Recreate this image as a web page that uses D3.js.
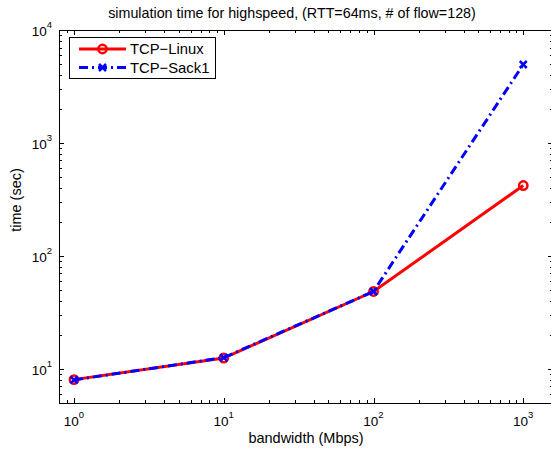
<!DOCTYPE html>
<html>
<head>
<meta charset="utf-8">
<script src="https://cdn.jsdelivr.net/npm/d3@7"></script>
<style>
  body { margin: 0; background: #fff; overflow: hidden; }
  svg { display: block; font-family: "Liberation Sans", Arial, sans-serif; }
</style>
</head>
<body>
<div id="chart"></div>
<script>
// data
const bandwidth = [1, 10, 100, 1000];
const linuxTime = [8.05, 12.5, 48.5, 420];
const sackTime = [8.0, 12.6, 48.5, 4950];
const seriesNames = ["TCP\u2212Linux", "TCP\u2212Sack1"];
const xDomain = [0.794, 1580];
const yDomain = [5, 10000];

const width = 551, height = 451;
// the right side of the box falls just outside the picture, as in the original
const margin = { top: 30, right: -2, bottom: 48, left: 59 };

const svg = d3.select("#chart").append("svg")
  .attr("width", width)
  .attr("height", height);

const x = d3.scaleLog().domain(xDomain).range([margin.left, width - margin.right]);
const y = d3.scaleLog().domain(yDomain).range([height - margin.bottom, margin.top]);

const x0 = margin.left, x1 = width - margin.right;
const y0 = height - margin.bottom, y1 = margin.top;

const isMajor = (v) => Math.abs(Math.log10(v) - Math.round(Math.log10(v))) < 1e-9;

// ticks, pointing inward on all four sides
const ticks = svg.append("g").attr("stroke", "#000").attr("stroke-width", 1);
x.ticks().forEach((v) => {
  const len = isMajor(v) ? 5 : 3;
  const px = Math.round(x(v)) + 0.5;
  ticks.append("line").attr("x1", px).attr("x2", px).attr("y1", y0).attr("y2", y0 - len);
  ticks.append("line").attr("x1", px).attr("x2", px).attr("y1", y1).attr("y2", y1 + len);
});
y.ticks().forEach((v) => {
  const len = isMajor(v) ? 5 : 3;
  const py = Math.round(y(v)) + 0.5;
  ticks.append("line").attr("x1", x0).attr("x2", x0 + len).attr("y1", py).attr("y2", py);
  ticks.append("line").attr("x1", x1).attr("x2", x1 - len).attr("y1", py).attr("y2", py);
});

// box
svg.append("rect")
  .attr("x", x0 + 0.5).attr("y", y1 + 0.5)
  .attr("width", x1 - x0 - 1).attr("height", y0 - y1)
  .attr("fill", "none").attr("stroke", "#000").attr("stroke-width", 1);

// tick labels, 10 with superscript exponent
x.ticks().filter(isMajor).forEach((v) => {
  const t = svg.append("text")
    .attr("x", x(v)).attr("y", 426)
    .attr("text-anchor", "middle")
    .attr("font-size", 13.5);
  t.append("tspan").text("10");
  t.append("tspan").attr("dy", -8).attr("font-size", 9.5).text(Math.round(Math.log10(v)));
});
y.ticks().filter(isMajor).forEach((v) => {
  const t = svg.append("text")
    .attr("x", 52).attr("y", y(v) + 6)
    .attr("text-anchor", "end")
    .attr("font-size", 13.5);
  t.append("tspan").text("10");
  t.append("tspan").attr("dy", -8).attr("font-size", 9.5).text(Math.round(Math.log10(v)));
});

// titles
svg.append("text")
  .attr("x", 292).attr("y", 18)
  .attr("text-anchor", "middle").attr("font-size", 14.3)
  .text("simulation time for highspeed, (RTT=64ms, # of flow=128)");
svg.append("text")
  .attr("x", 306).attr("y", 443)
  .attr("text-anchor", "middle").attr("font-size", 14.5)
  .text("bandwidth (Mbps)");
svg.append("text")
  .attr("transform", "translate(21,200) rotate(-90)")
  .attr("text-anchor", "middle").attr("font-size", 14.5)
  .text("time (sec)");

const series = [
  { name: seriesNames[0], values: linuxTime, color: "#ff0000", dash: null, marker: "circle" },
  { name: seriesNames[1], values: sackTime, color: "#0000ff", dash: "9,4,2,4", marker: "x" },
];

const line = d3.line().x((d) => x(d[0])).y((d) => y(d[1]));

function drawMarker(g, type, cx, cy, color) {
  if (type === "circle") {
    g.append("circle").attr("cx", cx).attr("cy", cy).attr("r", 4.2)
      .attr("fill", "none").attr("stroke", color).attr("stroke-width", 2.5);
  } else {
    const s = 3.5;
    g.append("path")
      .attr("d", `M${cx - s},${cy - s}L${cx + s},${cy + s}M${cx - s},${cy + s}L${cx + s},${cy - s}`)
      .attr("stroke", color).attr("stroke-width", 2.5).attr("fill", "none");
  }
}

series.forEach((s) => {
  const pts = bandwidth.map((b, i) => [b, s.values[i]]);
  const g = svg.append("g");
  g.append("path")
    .attr("d", line(pts))
    .attr("fill", "none")
    .attr("stroke", s.color)
    .attr("stroke-width", 3)
    .attr("stroke-dasharray", s.dash);
  pts.forEach((p) => drawMarker(g, s.marker, x(p[0]), y(p[1]), s.color));
});

// legend
const legend = svg.append("g");
legend.append("rect")
  .attr("x", 69.5).attr("y", 37.5).attr("width", 146).attr("height", 41)
  .attr("fill", "#fff").attr("stroke", "#000").attr("stroke-width", 1);
series.forEach((s, i) => {
  const ly = 49 + i * 18.5;
  legend.append("line")
    .attr("x1", 79).attr("x2", 126).attr("y1", ly).attr("y2", ly)
    .attr("stroke", s.color).attr("stroke-width", 3)
    .attr("stroke-dasharray", s.dash);
  drawMarker(legend, s.marker, 102.5, ly, s.color);
  legend.append("text")
    .attr("x", 130).attr("y", ly + 5)
    .attr("font-size", 14.8)
    .text(s.name);
});
</script>
</body>
</html>
